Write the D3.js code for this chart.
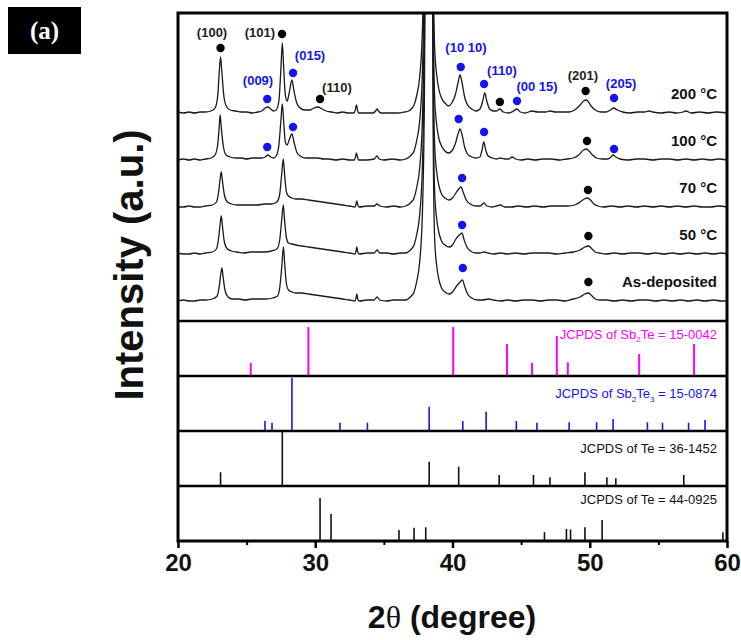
<!DOCTYPE html>
<html><head><meta charset="utf-8">
<script src="https://cdn.jsdelivr.net/npm/d3@7"></script>
<style>body{margin:0;background:#fff}svg{display:block}</style>
</head><body><svg id="c" width="741" height="640"></svg>
<script>
// ---------------- DATA ----------------
const xTicks = [20, 30, 40, 50, 60];
const xMinorTicks = [25, 35, 45, 55];
const sampleNames = ["200 \u00B0C", "100 \u00B0C", "70 \u00B0C", "50 \u00B0C", "As-deposited"];
const sampleOffsets = [208, 161, 114, 67, 20];

// intensity (a.u.) above each trace's own baseline
const trace200 = [[20.0,1],[20.4,0],[20.8,1],[21.2,0],[21.6,1],[22.0,1],[22.4,2],[22.7,5],[22.9,18],[23.0,40],[23.1,56],[23.2,40],[23.35,16],[23.55,6],[23.8,3],[24.2,2],[24.6,1],[25.0,1],[25.4,0],[25.8,1],[26.1,2],[26.35,5],[26.55,6],[26.75,4],[26.95,2],[27.15,3],[27.35,12],[27.5,45],[27.6,70],[27.7,45],[27.82,18],[27.95,12],[28.1,20],[28.3,33],[28.45,22],[28.65,10],[28.9,5],[29.2,3],[29.6,3],[29.9,5],[30.2,6],[30.5,4],[30.8,2],[31.2,1],[31.6,0],[32.0,1],[32.4,0],[32.8,0],[32.92,3],[33.0,8],[33.08,3],[33.15,0],[33.6,0],[34.2,0],[34.4,2],[34.5,4],[34.6,2],[34.8,0],[35.4,0],[36.0,0],[36.5,1],[36.8,2],[37.0,4],[37.2,8],[37.4,18],[37.6,35],[37.8,80],[37.95,200],[38.05,400],[38.5,400],[38.6,150],[38.7,65],[38.85,38],[39.0,24],[39.2,15],[39.45,10],[39.7,7],[39.95,10],[40.2,18],[40.4,30],[40.55,38],[40.7,30],[40.9,15],[41.1,8],[41.4,4],[41.7,2],[42.0,4],[42.2,12],[42.35,20],[42.5,12],[42.7,4],[43.0,2],[43.2,2],[43.45,4],[43.7,1],[44.1,0],[44.45,2],[44.7,4],[44.95,1],[45.3,0],[45.8,2],[46.2,1],[46.8,1],[47.1,2],[47.5,1],[48.0,1],[48.5,1],[48.9,3],[49.3,8],[49.55,12],[49.7,13],[49.85,12],[50.1,7],[50.4,3],[50.8,1],[51.2,1],[51.5,3],[51.75,5],[52.0,3],[52.4,1],[52.9,0],[53.5,1],[54.0,1],[54.3,2],[54.6,1],[55.2,0],[55.8,1],[56.3,0],[56.8,1],[57.0,2],[57.4,0],[58.0,1],[58.6,0],[59.2,1],[60.0,0]];
const trace100 = [[20.0,0],[20.4,1],[20.8,0],[21.2,1],[21.6,0],[22.0,1],[22.4,2],[22.7,5],[22.9,16],[23.0,33],[23.07,45],[23.15,33],[23.3,14],[23.5,5],[23.8,3],[24.2,2],[24.6,2],[25.0,1],[25.4,2],[25.8,2],[26.1,2],[26.35,3],[26.55,5],[26.75,3],[26.95,2],[27.15,4],[27.35,15],[27.5,40],[27.6,56],[27.7,38],[27.82,18],[27.95,15],[28.1,20],[28.3,26],[28.45,18],[28.65,8],[28.9,4],[29.3,2],[29.8,2],[30.2,2],[30.6,1],[31.0,1],[31.5,0],[32.0,1],[32.5,0],[32.85,0],[32.93,3],[33.0,7],[33.08,3],[33.15,0],[33.7,0],[34.3,1],[34.5,4],[34.65,1],[35.0,0],[35.6,1],[36.2,0],[36.6,1],[36.85,3],[37.0,5],[37.2,9],[37.4,20],[37.6,38],[37.8,85],[37.95,200],[38.05,400],[38.5,400],[38.6,150],[38.7,62],[38.85,35],[39.0,22],[39.2,14],[39.45,9],[39.7,7],[39.95,9],[40.2,16],[40.4,26],[40.55,31],[40.7,25],[40.9,12],[41.1,6],[41.4,3],[41.7,2],[42.0,3],[42.15,10],[42.28,18],[42.42,10],[42.6,4],[42.9,2],[43.2,1],[43.5,2],[43.8,1],[44.1,1],[44.35,3],[44.6,1],[45.0,0],[45.5,1],[46.0,0],[46.6,1],[47.2,1],[47.8,0],[48.3,1],[48.8,2],[49.2,5],[49.55,10],[49.75,11],[49.95,9],[50.2,5],[50.5,2],[50.9,1],[51.3,1],[51.55,3],[51.7,5],[51.9,3],[52.2,1],[52.8,0],[53.4,1],[54.0,1],[54.6,0],[55.2,1],[55.8,1],[56.4,0],[57.0,1],[57.6,0],[58.2,1],[58.8,0],[59.4,1],[60.0,0]];
const trace70 = [[20.0,0],[20.4,0],[20.8,1],[21.2,0],[21.6,0],[22.0,1],[22.5,2],[22.8,5],[22.95,14],[23.07,28],[23.15,35],[23.23,27],[23.38,12],[23.6,5],[23.9,3],[24.3,2],[24.8,2],[25.3,2],[25.8,2],[26.3,3],[26.8,3],[27.2,5],[27.4,12],[27.55,32],[27.67,48],[27.77,32],[27.9,15],[28.05,11],[28.3,9],[28.6,8],[29.0,8],[29.5,7],[30.0,6],[30.5,5],[31.0,4],[31.5,3],[32.0,2],[32.5,1],[32.9,0],[32.97,3],[33.03,6],[33.1,2],[33.2,0],[33.8,1],[34.3,1],[34.5,3],[34.7,1],[35.2,0],[35.7,1],[36.2,0],[36.6,1],[36.85,3],[37.0,5],[37.2,9],[37.4,20],[37.6,38],[37.8,85],[37.95,200],[38.05,400],[38.5,400],[38.6,150],[38.7,62],[38.85,35],[39.0,22],[39.2,13],[39.45,9],[39.75,7],[40.0,9],[40.25,14],[40.45,18],[40.62,20],[40.8,14],[41.0,7],[41.3,3],[41.7,1],[42.0,1],[42.3,4],[42.5,1],[42.9,0],[43.2,1],[43.5,2],[43.8,0],[44.3,0],[44.8,1],[45.4,0],[46.0,1],[46.6,0],[47.2,1],[47.8,1],[48.4,1],[48.9,2],[49.3,5],[49.6,8],[49.85,9],[50.05,7],[50.3,3],[50.6,1],[51.0,0],[51.6,1],[52.2,0],[52.8,1],[53.4,0],[54.0,1],[54.6,0],[55.2,1],[55.8,0],[56.4,1],[57.0,0],[57.6,1],[58.2,0],[58.8,0],[59.4,1],[60.0,0]];
const trace50 = [[20.0,1],[20.4,0],[20.8,0],[21.2,1],[21.6,0],[22.0,1],[22.5,2],[22.8,5],[22.95,15],[23.07,30],[23.15,38],[23.23,29],[23.38,12],[23.6,5],[23.9,3],[24.3,2],[24.8,1],[25.3,2],[25.8,2],[26.3,2],[26.8,3],[27.2,5],[27.4,13],[27.55,33],[27.67,49],[27.77,33],[27.9,16],[28.05,11],[28.3,10],[28.6,9],[29.0,8],[29.5,7],[30.0,6],[30.5,5],[31.0,4],[31.5,3],[32.0,2],[32.5,1],[32.9,0],[32.97,3],[33.03,7],[33.1,2],[33.2,0],[33.8,1],[34.3,1],[34.5,4],[34.7,1],[35.2,1],[35.7,0],[36.2,1],[36.6,1],[36.85,3],[37.0,5],[37.2,9],[37.4,20],[37.6,38],[37.8,85],[37.95,200],[38.05,400],[38.5,400],[38.6,150],[38.7,62],[38.85,35],[39.0,22],[39.2,13],[39.45,9],[39.75,7],[40.0,9],[40.25,15],[40.5,19],[40.68,21],[40.85,14],[41.05,7],[41.3,3],[41.7,1],[42.0,1],[42.3,2],[42.6,1],[43.0,0],[43.5,1],[44.0,0],[44.6,1],[45.2,0],[45.8,1],[46.4,1],[47.0,1],[47.6,0],[48.2,1],[48.8,2],[49.3,4],[49.65,7],[49.9,8],[50.1,6],[50.4,2],[50.7,1],[51.2,0],[51.8,1],[52.4,0],[53.0,1],[53.6,1],[54.2,0],[54.8,1],[55.4,0],[56.0,1],[56.6,0],[57.2,1],[57.8,0],[58.4,1],[59.0,0],[59.6,1],[60.0,0]];
const traceAsDep = [[20.0,0],[20.4,1],[20.8,0],[21.2,0],[21.6,1],[22.0,1],[22.5,2],[22.85,5],[23.0,14],[23.12,27],[23.2,33],[23.28,25],[23.42,11],[23.65,4],[23.95,2],[24.4,2],[24.9,1],[25.4,2],[25.9,2],[26.4,2],[26.9,3],[27.25,5],[27.42,14],[27.57,36],[27.68,54],[27.78,36],[27.9,17],[28.05,11],[28.3,9],[28.6,8],[29.0,8],[29.5,7],[30.0,6],[30.5,5],[31.0,4],[31.5,3],[32.0,2],[32.5,1],[32.9,0],[32.97,3],[33.03,7],[33.1,2],[33.2,0],[33.8,1],[34.3,1],[34.5,4],[34.7,1],[35.2,0],[35.7,1],[36.2,1],[36.6,1],[36.85,3],[37.0,5],[37.2,9],[37.4,20],[37.6,38],[37.8,85],[37.95,200],[38.05,400],[38.5,400],[38.6,150],[38.7,62],[38.85,35],[39.0,22],[39.2,13],[39.45,9],[39.75,7],[40.0,9],[40.3,15],[40.55,19],[40.72,21],[40.9,14],[41.1,7],[41.4,3],[41.8,1],[42.2,1],[42.6,2],[43.0,1],[43.5,0],[44.0,1],[44.6,0],[45.2,1],[45.8,1],[46.4,0],[47.0,1],[47.6,1],[48.2,0],[48.8,2],[49.3,4],[49.65,7],[49.9,8],[50.1,6],[50.4,2],[50.7,1],[51.2,1],[51.8,0],[52.4,1],[53.0,0],[53.6,1],[54.2,1],[54.8,0],[55.4,1],[56.0,0],[56.6,1],[57.2,0],[57.8,1],[58.4,0],[59.0,1],[59.6,0],[60.0,0]];
const sampleTraces = [trace200, trace100, trace70, trace50, traceAsDep];

// phase markers: [2theta, height above baseline, phase] ("Te" black, "SbTe" blue)
const markers200 = [[23.1,65,"Te"],[27.58,79,"Te"],[28.38,40,"SbTe"],[26.5,14,"SbTe"],[30.35,14,"Te"],[40.6,46,"SbTe"],[42.3,29,"SbTe"],[43.45,11,"Te"],[44.7,12,"SbTe"],[49.7,22,"Te"],[51.77,15,"SbTe"]];
const markers100 = [[26.5,13,"SbTe"],[28.38,33,"SbTe"],[40.45,41,"SbTe"],[42.3,28,"SbTe"],[49.8,19,"Te"],[51.77,11,"SbTe"]];
const markers70 = [[40.7,29,"SbTe"],[49.87,17,"Te"]];
const markers50 = [[40.7,29,"SbTe"],[49.9,18,"Te"]];
const markersAsDep = [[40.75,33,"SbTe"],[49.9,19,"Te"]];
const sampleMarkers = [markers200, markers100, markers70, markers50, markersAsDep];

// Miller index labels: [text, phase]
const hklText = [["(100)","Te"],["(101)","Te"],["(015)","SbTe"],["(009)","SbTe"],["(110)","Te"],["(10 10)","SbTe"],["(110)","SbTe"],["(00 15)","SbTe"],["(201)","Te"],["(205)","SbTe"]];

// JCPDS reference lines: [2theta, relative intensity %]
const refSb2Te = [[25.3,24],[29.5,89],[40.05,89],[43.97,58],[45.8,24],[47.6,73],[48.4,25],[53.6,40],[57.6,58]];
const refSb2Te3 = [[26.34,18],[26.85,15],[28.3,97],[31.8,15],[33.8,15],[38.3,44],[40.75,18],[42.45,35],[44.65,18],[46.15,15],[48.5,16],[50.5,16],[51.7,22],[54.2,16],[55.3,15],[57.2,15],[58.4,20]];
const refTe36 = [[23.1,25],[27.6,100],[38.3,44],[40.45,35],[43.4,20],[45.9,20],[47.1,16],[49.65,25],[51.25,16],[51.9,14],[56.85,20]];
const refTe44 = [[30.35,78],[31.15,49],[36.1,20],[37.2,24],[38.05,25],[46.7,16],[48.3,22],[48.6,21],[49.65,25],[50.9,38],[59.7,16]];
const refSets = [refSb2Te, refSb2Te3, refTe36, refTe44];
const refCards = ["15-0042", "15-0874", "36-1452", "44-0925"];

// ---------------- LAYOUT ----------------
const L = 178, R = 727, T = 13, mainBottom = 321;
const panelEdges = [321, 376, 431, 486, 541];
const FONT = "'Liberation Sans', Arial, Helvetica, sans-serif";
const BLUE = "#1414f0", MAG = "#ff00ff", INK = "#1a1a1a";
const phaseColor = p => p === "Te" ? "#000" : BLUE;
// label anchor positions [2theta, main-panel units]
const hklPos = [[22.48,289],[25.97,289],[29.62,266],[25.83,241],[31.58,234],[40.98,274],[43.6,251],[46.16,235],[49.5,246],[52.28,238]];

const svg = d3.select("#c");
const x = d3.scaleLinear().domain([20, 60]).range([L, R]);
const yMain = d3.scaleLinear().domain([0, mainBottom - T]).range([mainBottom, T]);

svg.append("defs").append("clipPath").attr("id", "clipMain")
  .append("rect").attr("x", L).attr("y", T).attr("width", R - L).attr("height", mainBottom - T);

// traces
const gTr = svg.append("g").attr("clip-path", "url(#clipMain)");
sampleTraces.forEach((tr, i) => {
  const off = sampleOffsets[i];
  const line = d3.line().x(d => x(d[0])).y(d => yMain(off + d[1])).curve(d3.curveMonotoneX);
  gTr.append("path").datum(tr).attr("d", line)
    .attr("fill", "none").attr("stroke", INK).attr("stroke-width", 1.3).attr("stroke-linejoin", "round");
});

// markers
sampleMarkers.forEach((ms, i) => {
  const off = sampleOffsets[i];
  svg.append("g").selectAll("circle").data(ms).join("circle")
    .attr("cx", d => x(d[0])).attr("cy", d => yMain(off + d[1])).attr("r", 4.2)
    .attr("fill", d => phaseColor(d[2]));
});

// hkl labels
svg.append("g").selectAll("text").data(hklText).join("text")
  .attr("x", (d, i) => x(hklPos[i][0])).attr("y", (d, i) => yMain(hklPos[i][1]))
  .attr("text-anchor", "middle").attr("dominant-baseline", "central")
  .attr("font-family", FONT).attr("font-weight", "bold").attr("font-size", 13)
  .attr("fill", d => d[1] === "Te" ? "#222" : BLUE)
  .text(d => d[0]);

// sample labels
svg.append("g").selectAll("text").data(sampleNames).join("text")
  .attr("x", 717).attr("y", (d, i) => yMain(sampleOffsets[i]) - 14)
  .attr("text-anchor", "end").attr("font-family", FONT).attr("font-weight", "bold")
  .attr("font-size", 15).attr("fill", "#111").text(d => d);

// reference panels
const refColors = [MAG, BLUE, "#111", "#111"];
refSets.forEach((set, i) => {
  const top = panelEdges[i], bot = panelEdges[i + 1];
  const yr = d3.scaleLinear().domain([0, 100]).range([bot, top]);
  svg.append("g").selectAll("line").data(set).join("line")
    .attr("x1", d => x(d[0])).attr("x2", d => x(d[0]))
    .attr("y1", yr(0)).attr("y2", d => yr(d[1]))
    .attr("stroke", refColors[i]).attr("stroke-width", i === 0 ? 2 : 1.6);
});

// reference labels
const refLabelY = [339, 398, 453, 504];
function refLabel(i, build) {
  const t = svg.append("text").attr("x", 717).attr("y", refLabelY[i])
    .attr("text-anchor", "end").attr("font-family", FONT).attr("font-size", 13)
    .attr("fill", refColors[i]);
  build(t);
}
refLabel(0, t => { t.append("tspan").text("JCPDS of Sb");
  t.append("tspan").attr("font-size", 8).attr("dy", 3).text("2");
  t.append("tspan").attr("dy", -3).text("Te = " + refCards[0]); });
refLabel(1, t => { t.append("tspan").text("JCPDS of Sb");
  t.append("tspan").attr("font-size", 8).attr("dy", 4).text("2");
  t.append("tspan").attr("dy", -4).text("Te");
  t.append("tspan").attr("font-size", 8).attr("dy", 4).text("3");
  t.append("tspan").attr("dy", -4).text(" = " + refCards[1]); });
refLabel(2, t => t.text("JCPDS of Te = " + refCards[2]));
refLabel(3, t => t.text("JCPDS of Te = " + refCards[3]));

// frame and separators
svg.append("rect").attr("x", L).attr("y", T).attr("width", R - L).attr("height", panelEdges[4] - T)
  .attr("fill", "none").attr("stroke", "#000").attr("stroke-width", 3);
svg.append("g").selectAll("line").data(panelEdges.slice(0, 4)).join("line")
  .attr("x1", L).attr("x2", R).attr("y1", d => d).attr("y2", d => d)
  .attr("stroke", "#000").attr("stroke-width", 2.5);

// x axis
const gx = svg.append("g").attr("transform", `translate(0,${panelEdges[4]})`)
  .call(d3.axisBottom(x).tickValues(xTicks).tickSize(7).tickPadding(6).tickFormat(d3.format("d")));
gx.select(".domain").remove();
gx.selectAll(".tick line").attr("stroke", "#000").attr("stroke-width", 2.5);
gx.selectAll(".tick text").attr("font-family", FONT).attr("font-weight", "bold").attr("font-size", 24).attr("fill", "#111");
const gxm = svg.append("g").attr("transform", `translate(0,${panelEdges[4]})`)
  .call(d3.axisBottom(x).tickValues(xMinorTicks).tickSize(4).tickFormat(""));
gxm.select(".domain").remove();
gxm.selectAll(".tick line").attr("stroke", "#000").attr("stroke-width", 2);

// axis titles
const xt = svg.append("text").attr("x", 452).attr("y", 628).attr("text-anchor", "middle")
  .attr("font-family", FONT).attr("font-weight", "bold").attr("font-size", 32).attr("fill", "#111");
xt.append("tspan").text("2");
xt.append("tspan").attr("font-family", "'Liberation Serif', 'Times New Roman', serif").attr("font-weight", "normal").text("\u03B8");
xt.append("tspan").text(" (degree)");

svg.append("text").attr("transform", "translate(143,265) rotate(-90)").attr("text-anchor", "middle")
  .attr("font-family", FONT).attr("font-weight", "bold").attr("font-size", 40).attr("fill", "#111")
  .text("Intensity (a.u.)");

// panel tag
svg.append("rect").attr("x", 8).attr("y", 7).attr("width", 73).attr("height", 47).attr("fill", "#000");
svg.append("text").attr("x", 44.5).attr("y", 39).attr("text-anchor", "middle")
  .attr("font-family", "'Liberation Serif', 'Times New Roman', serif").attr("font-weight", "bold")
  .attr("font-size", 25).attr("fill", "#fff").text("(a)");
</script></body></html>
